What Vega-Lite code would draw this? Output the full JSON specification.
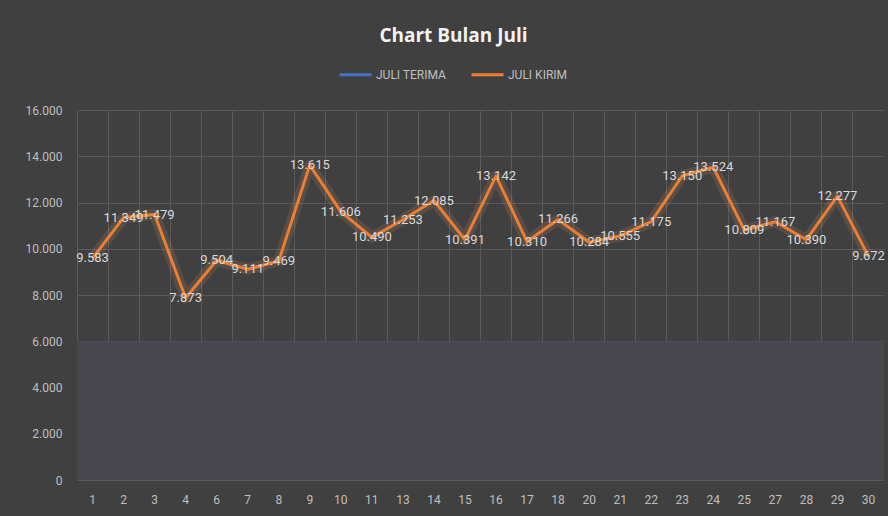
{
  "$schema": "https://vega.github.io/schema/vega-lite/v6.json",
  "width": 807,
  "height": 370,
  "autosize": {"type": "none"},
  "padding": {"left": 77, "top": 110, "right": 4, "bottom": 36},
  "background": "#404040",
  "config": {
    "locale": {"number": {"decimal": ",", "thousands": ".", "grouping": [3], "currency": ["", ""]}},
    "view": {"stroke": null},
    "font": "Roboto"
  },
  "title": {
    "text": "Chart Bulan Juli",
    "fontSize": 19,
    "fontWeight": "bold",
    "color": "#f2f2f2",
    "font": "Open Sans",
    "anchor": "middle",
    "dx": -27,
    "offset": 11
  },
  "datasets": {
    "juli": [
      {"Tanggal": "1", "Seri": "JULI KIRIM", "Nilai": 9583},
      {"Tanggal": "2", "Seri": "JULI KIRIM", "Nilai": 11349},
      {"Tanggal": "3", "Seri": "JULI KIRIM", "Nilai": 11479},
      {"Tanggal": "4", "Seri": "JULI KIRIM", "Nilai": 7873},
      {"Tanggal": "6", "Seri": "JULI KIRIM", "Nilai": 9504},
      {"Tanggal": "7", "Seri": "JULI KIRIM", "Nilai": 9111},
      {"Tanggal": "8", "Seri": "JULI KIRIM", "Nilai": 9469},
      {"Tanggal": "9", "Seri": "JULI KIRIM", "Nilai": 13615},
      {"Tanggal": "10", "Seri": "JULI KIRIM", "Nilai": 11606},
      {"Tanggal": "11", "Seri": "JULI KIRIM", "Nilai": 10490},
      {"Tanggal": "13", "Seri": "JULI KIRIM", "Nilai": 11253},
      {"Tanggal": "14", "Seri": "JULI KIRIM", "Nilai": 12085},
      {"Tanggal": "15", "Seri": "JULI KIRIM", "Nilai": 10391},
      {"Tanggal": "16", "Seri": "JULI KIRIM", "Nilai": 13142},
      {"Tanggal": "17", "Seri": "JULI KIRIM", "Nilai": 10310},
      {"Tanggal": "18", "Seri": "JULI KIRIM", "Nilai": 11266},
      {"Tanggal": "20", "Seri": "JULI KIRIM", "Nilai": 10284},
      {"Tanggal": "21", "Seri": "JULI KIRIM", "Nilai": 10555},
      {"Tanggal": "22", "Seri": "JULI KIRIM", "Nilai": 11175},
      {"Tanggal": "23", "Seri": "JULI KIRIM", "Nilai": 13150},
      {"Tanggal": "24", "Seri": "JULI KIRIM", "Nilai": 13524},
      {"Tanggal": "25", "Seri": "JULI KIRIM", "Nilai": 10809},
      {"Tanggal": "27", "Seri": "JULI KIRIM", "Nilai": 11167},
      {"Tanggal": "28", "Seri": "JULI KIRIM", "Nilai": 10390},
      {"Tanggal": "29", "Seri": "JULI KIRIM", "Nilai": 12277},
      {"Tanggal": "30", "Seri": "JULI KIRIM", "Nilai": 9672}
    ],
    "overlay": [{"lo": 0, "hi": 6000}]
  },
  "data": {"name": "juli"},
  "encoding": {
    "x": {
      "field": "Tanggal",
      "type": "ordinal",
      "sort": null,
      "bandPosition": 0.5,
      "scale": {"type": "band", "paddingInner": 0, "paddingOuter": 0},
      "axis": {
        "title": null,
        "labelAngle": 0,
        "labelColor": "#bfbfbf",
        "labelFontSize": 12,
        "labelPadding": 14,
        "domain": false,
        "ticks": false,
        "grid": true,
        "bandPosition": 0,
        "gridColor": "#5a5a5a",
        "gridWidth": 1
      }
    },
    "y": {
      "field": "Nilai",
      "type": "quantitative",
      "scale": {"domain": [0, 16000], "nice": false},
      "axis": {
        "title": null,
        "values": [0, 2000, 4000, 6000, 8000, 10000, 12000, 14000, 16000],
        "format": ",.0f",
        "labelColor": "#bfbfbf",
        "labelFontSize": 12,
        "labelPadding": 15,
        "domain": false,
        "ticks": false,
        "gridColor": "#5a5a5a",
        "gridWidth": 1
      }
    }
  },
  "layer": [
    {
      "data": {"name": "overlay"},
      "mark": {"type": "rect", "color": "#48474d"},
      "encoding": {
        "x": null,
        "y": {"field": "lo", "type": "quantitative"},
        "y2": {"field": "hi"}
      }
    },
    {
      "mark": {"type": "line", "strokeWidth": 11, "color": "#f4b183", "opacity": 0.13, "strokeJoin": "round"},
      "encoding": {}
    },
    {
      "mark": {"type": "line", "strokeWidth": 3, "strokeJoin": "round"},
      "encoding": {
        "color": {
          "field": "Seri",
          "type": "nominal",
          "scale": {"domain": ["JULI TERIMA", "JULI KIRIM"], "range": ["#4472c4", "#ed7d31"]},
          "legend": {
            "title": null,
            "orient": "none",
            "legendX": 261,
            "legendY": -53,
            "direction": "horizontal",
            "symbolType": "stroke",
            "symbolSize": 1024,
            "symbolStrokeWidth": 3,
            "labelColor": "#bfbfbf",
            "labelFontSize": 12,
            "labelOffset": 3,
            "columnPadding": 18
          }
        }
      }
    },
    {
      "mark": {"type": "text", "color": "#d9d9d9", "fontSize": 13, "align": "center", "baseline": "middle"},
      "encoding": {
        "text": {"field": "Nilai", "type": "quantitative", "format": ",.0f"}
      }
    }
  ]
}
